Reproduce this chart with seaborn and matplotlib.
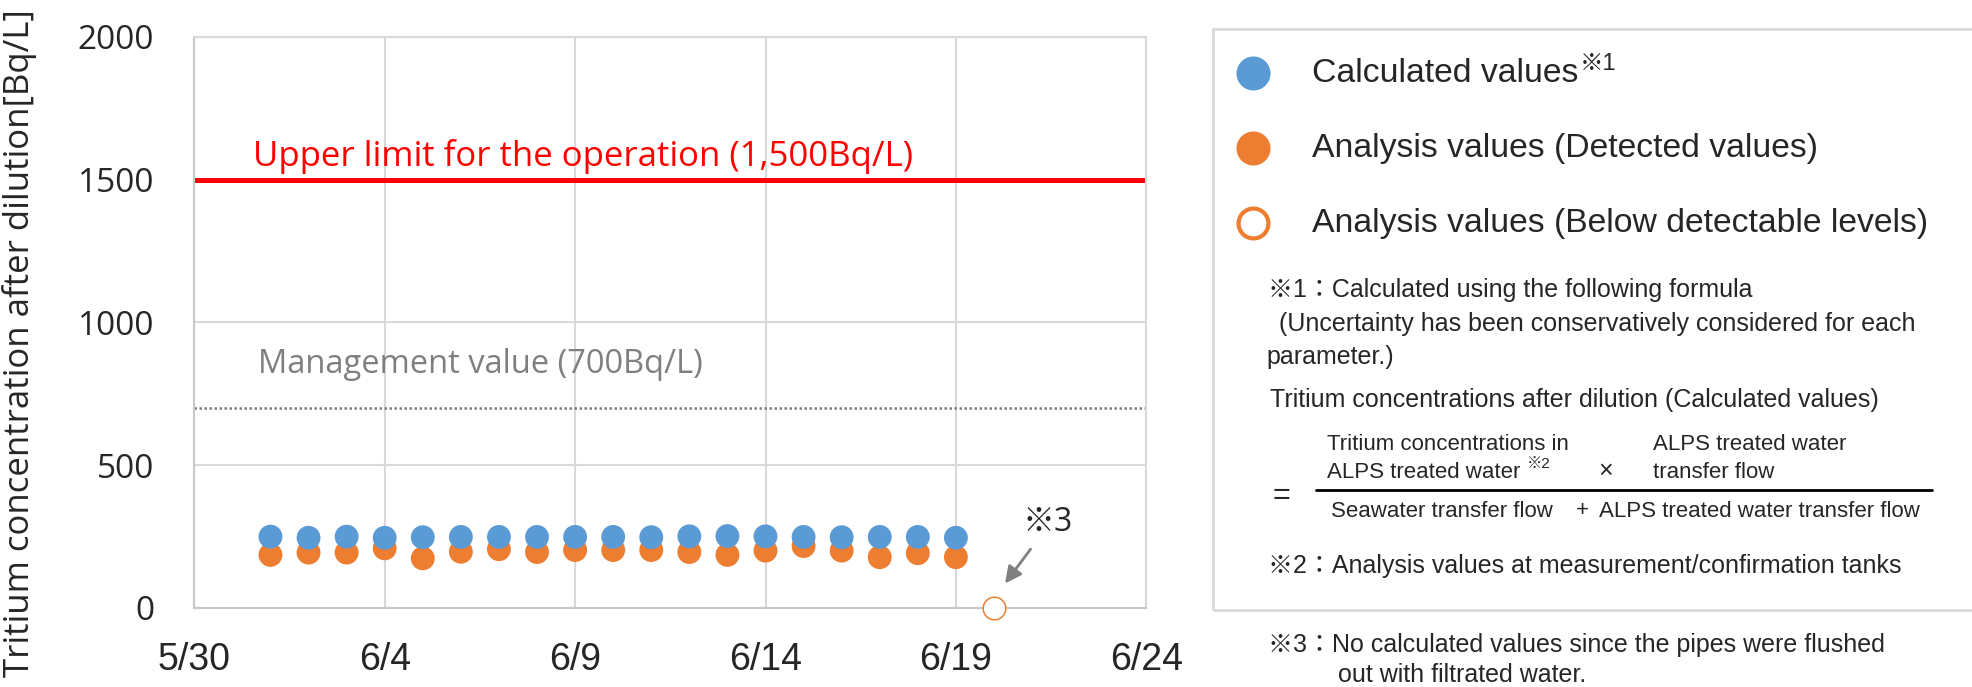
import pandas as pd
import matplotlib
matplotlib.use("Agg")
import matplotlib.pyplot as plt
import matplotlib.dates as mdates
import seaborn as sns
from matplotlib.lines import Line2D
from matplotlib.patches import Rectangle

# data
days = pd.date_range("2024-06-01", "2024-06-19", freq="D")
calculated = [249, 245, 249, 245, 247, 248, 248, 248, 248, 248,
              247, 250, 251, 250, 248, 247, 248, 248, 245]
detected = [185, 193, 193, 208, 173, 196, 205, 195, 202, 202,
            202, 195, 185, 200, 216, 200, 177, 191, 177]
nd_days = pd.to_datetime(["2024-06-20"])
nd_values = [0]
upper_limit = 1500
management_value = 700
x_ticks = pd.date_range("2024-05-30", "2024-06-24", freq="5D")
y_ticks = [0, 500, 1000, 1500, 2000]

BLUE = "#5B9BD5"
ORANGE = "#ED7D31"
W, H = 1972, 687

sns.set_style("white")
plt.rcParams["font.family"] = ["Open Sans", "Noto Sans CJK JP"]
LEG_FONT = ["Liberation Sans", "Noto Sans CJK JP"]

fig = plt.figure(figsize=(W / 100, H / 100), dpi=100)
ax = fig.add_axes([194.3 / W, 1 - 607.7 / H, 952 / W, 570.8 / H])

df = pd.DataFrame({
    "date": list(days) + list(days),
    "value": detected + calculated,
    "kind": ["Analysis"] * len(days) + ["Calculated"] * len(days),
})
sns.scatterplot(data=df, x="date", y="value", hue="kind",
                palette={"Analysis": ORANGE, "Calculated": BLUE},
                s=295, linewidth=0, legend=False, ax=ax, zorder=3)
sns.scatterplot(x=nd_days, y=nd_values, s=265, color=ORANGE,
                facecolor="white", edgecolor=ORANGE, linewidth=1.1,
                ax=ax, zorder=4, clip_on=False)

ax.axhline(upper_limit, color="#FF0000", lw=3.6, zorder=2)
ax.axhline(management_value, color="#7f7f7f", lw=1.8, ls=(0, (1, 1)), zorder=2)

x0 = mdates.date2num(x_ticks[0])
ax.text(x0 + 1.54, 1546, "Upper limit for the operation (1,500Bq/L)",
        color="#FF0000", fontsize=25, va="baseline")
ax.text(x0 + 1.67, 822, "Management value (700Bq/L)",
        color="#7f7f7f", fontsize=23.5, va="baseline")

ax.annotate("", xy=(x0 + 21.29, 85), xytext=(x0 + 21.96, 205),
            arrowprops=dict(arrowstyle="-|>", color="#808080", lw=2,
                            mutation_scale=25, shrinkA=0, shrinkB=0))
ax.text(x0 + 22.42, 297, "※3", fontsize=23, ha="center", va="center")

ax.set_xlim(x_ticks[0], x_ticks[-1])
ax.set_ylim(0, 2000)
ax.set_xticks(x_ticks)
ax.set_xticklabels([f"{d.month}/{d.day}" for d in x_ticks],
                   fontsize=27, family=LEG_FONT)
ax.set_yticks(y_ticks)
ax.tick_params(axis="y", length=0, pad=29, labelsize=24)
ax.tick_params(axis="x", length=0, pad=25)
ax.grid(True, color="#d9d9d9", lw=1.5)
ax.set_axisbelow(True)
for side, sp in ax.spines.items():
    sp.set_color("#c8c8c8" if side in ("left", "bottom") else "#d9d9d9")
    sp.set_linewidth(1.5)
ax.set_xlabel("")
ax.set_ylabel("Tritium concentration after dilution[Bq/L]", fontsize=25, va="center")
ax.yaxis.set_label_coords((20 - 194.3) / 952, (607.7 - 343) / 570.8)

# legend / notes panel
def fx(px):
    return px / W

def fy(py):
    return 1 - py / H

fig.add_artist(Rectangle((fx(1213), fy(610)), fx(1990 - 1213), (610 - 29) / H,
                         transform=fig.transFigure, fill=False,
                         edgecolor="#d9d9d9", lw=2))
fig.add_artist(Line2D([fx(1253)], [fy(73)], marker="o", ms=23.5, color=BLUE,
                      ls="none", transform=fig.transFigure))
fig.add_artist(Line2D([fx(1253)], [fy(148)], marker="o", ms=23.5, color=ORANGE,
                      ls="none", transform=fig.transFigure))
fig.add_artist(Line2D([fx(1253)], [fy(223)], marker="o", ms=21.5, mfc="white",
                      mec=ORANGE, mew=3, ls="none", transform=fig.transFigure))


def note(px, py, s, size=18, **kw):
    kw.setdefault("va", "baseline")
    return fig.text(fx(px), fy(py), s, fontsize=size, family=LEG_FONT, **kw)


def right_edge(t):
    fig.canvas.draw()
    return t.get_window_extent().x1


t = note(1312, 82, "Calculated values", 24.3)
note(right_edge(t) + 1, 70, "※1", 17)
note(1312, 157, "Analysis values (Detected values)", 24.3)
note(1312, 232, "Analysis values (Below detectable levels)", 24.3)

note(1268, 297, "※1：Calculated using the following formula")
note(1279, 331, "(Uncertainty has been conservatively considered for each")
note(1266, 364, "parameter.)")
note(1270, 407, "Tritium concentrations after dilution (Calculated values)")
note(1327, 450, "Tritium concentrations in", 16)
t = note(1327, 478, "ALPS treated water ", 16)
note(right_edge(t), 468, "※2", 11)
note(1606, 471, "×", 18, ha="center", va="center")
note(1653, 450, "ALPS treated water", 16)
note(1653, 478, "transfer flow", 16)
note(1281, 496, "=", 22, ha="center", va="center")
fig.add_artist(Line2D([fx(1316), fx(1932)], [fy(490), fy(490)], lw=2,
                      color="black", transform=fig.transFigure))
note(1331, 517, "Seawater transfer flow", 16)
note(1582, 511, "+", 16, ha="center", va="center")
note(1599, 517, "ALPS treated water transfer flow", 16)
note(1268, 573, "※2：Analysis values at measurement/confirmation tanks")
note(1268, 652, "※3：No calculated values since the pipes were flushed")
note(1338, 682, "out with filtrated water.")

fig.savefig("out.png", dpi=100)
